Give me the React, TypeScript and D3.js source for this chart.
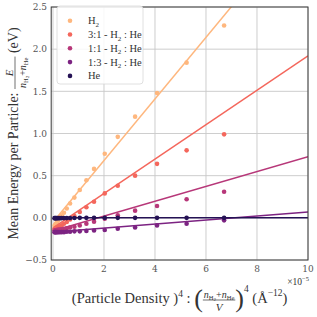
import React, { useEffect, useRef } from "react";
import * as d3 from "d3";

// x in units of 1e-5 Å^-12
const density4 = [6.71, 5.24, 4.08, 3.22, 2.54, 2.03, 1.61, 1.31, 1.05, 0.84, 0.67, 0.54, 0.43, 0.34, 0.27, 0.21, 0.165, 0.13, 0.1, 0.08, 0.06];
const energyH2 = [2.28, 1.84, 1.48, 1.2, 0.96, 0.76, 0.58, 0.445, 0.33, 0.24, 0.17, 0.11, 0.06, 0.03, 0.0, -0.03, -0.05, -0.065, -0.075, -0.085, -0.095];
const energy31 = [0.99, 0.8, 0.64, 0.5, 0.38, 0.29, 0.19, 0.126, 0.07, 0.02, -0.02, -0.05, -0.07, -0.09, -0.1, -0.11, -0.115, -0.12, -0.125, -0.13, -0.13];
const energy11 = [0.31, 0.22, 0.14, 0.085, 0.03, -0.01, -0.045, -0.07, -0.09, -0.105, -0.115, -0.125, -0.13, -0.135, -0.14, -0.14, -0.145, -0.145, -0.15, -0.15, -0.15];
const energy13 = [-0.03, -0.07, -0.09, -0.115, -0.13, -0.145, -0.15, -0.155, -0.16, -0.16, -0.165, -0.165, -0.17, -0.17, -0.17, -0.17, -0.17, -0.17, -0.17, -0.17, -0.17];
const energyHe = [0.0, 0.0, 0.0, 0.0, 0.0, 0.0, 0.0, 0.0, 0.0, -0.002, -0.002, -0.003, -0.003, -0.003, -0.004, -0.004, -0.004, -0.004, -0.004, -0.004, -0.004];

const seriesNames = ["H2", "3:1 - H2 : He", "1:1 - H2 : He", "1:3 - H2 : He", "He"];
const seriesValues = [energyH2, energy31, energy11, energy13, energyHe];
const seriesColors = [0.85, 0.68, 0.5, 0.36, 0.15].map(t => d3.interpolateMagma(t));
// linear fits: E = a + b x
const fitIntercepts = [-0.05, -0.12, -0.155, -0.17, 0.0];
const fitSlopes = [0.365, 0.204, 0.088, 0.024, 0.0];

const xTicks = [0, 2, 4, 6, 8, 10];
const yTicks = [-0.5, 0.0, 0.5, 1.0, 1.5, 2.0, 2.5];

const FONT = "'DejaVu Serif', serif";
const LFONT = "'Liberation Serif', serif";

type Seg = { t: string; dy?: number; size?: number; italic?: boolean } | { num: Seg[]; den: Seg[]; size?: number };

// lays segments out left to right, returns total width
function layout(g: any, segs: Seg[], x0: number, base: number, size: number): number {
  let x = x0;
  segs.forEach(s => {
    if ("num" in s) {
      const gn = g.append("g");
      const gd = g.append("g");
      const wn = layout(gn, s.num, 0, base - 5, s.size || 10);
      const wd = layout(gd, s.den, 0, base + 8, s.size || 10);
      const w = Math.max(wn, wd) + 2;
      gn.attr("transform", `translate(${x + (w - wn) / 2},0)`);
      gd.attr("transform", `translate(${x + (w - wd) / 2},0)`);
      g.append("line").attr("x1", x).attr("x2", x + w).attr("y1", base - 3).attr("y2", base - 3)
        .attr("stroke", "#333").attr("stroke-width", 0.7);
      x += w;
    } else {
      const t = g.append("text").attr("x", x).attr("y", base + (s.dy || 0))
        .attr("font-size", s.size || size).attr("font-family", LFONT)
        .attr("font-style", s.italic ? "italic" : "normal").attr("fill", "#333")
        .style("white-space", "pre").text(s.t);
      x += (t.node() as SVGTextElement).getComputedTextLength();
    }
  });
  return x - x0;
}

const App = () => {
  const ref = useRef<SVGSVGElement>(null);

  useEffect(() => {
    const width = 317;
    const height = 317;
    const margin = { left: 53, right: 9, top: 7, bottom: 57 };
    const svg = d3.select(ref.current).attr("width", width).attr("height", height);
    svg.selectAll("*").remove();

    const x = d3.scaleLinear().domain([-0.07, 10]).range([margin.left - 1.8, width - margin.right]);
    const y = d3.scaleLinear().domain([-0.5, 2.5]).range([height - margin.bottom, margin.top]);

    svg.append("rect").attr("width", width).attr("height", height).attr("fill", "#fff");

    // grid
    svg.append("g").selectAll("line").data(xTicks).enter().append("line")
      .attr("x1", d => x(d)).attr("x2", d => x(d)).attr("y1", y(-0.5)).attr("y2", y(2.5))
      .attr("stroke", "#c8c8c8").attr("stroke-width", 0.9);
    svg.append("g").selectAll("line").data(yTicks).enter().append("line")
      .attr("x1", x.range()[0]).attr("x2", x.range()[1]).attr("y1", d => y(d)).attr("y2", d => y(d))
      .attr("stroke", "#c8c8c8").attr("stroke-width", 0.9);

    const plot = svg.append("g");
    svg.append("clipPath").attr("id", "clip").append("rect")
      .attr("x", x.range()[0]).attr("y", y(2.5)).attr("width", x.range()[1] - x.range()[0]).attr("height", y(-0.5) - y(2.5));
    plot.attr("clip-path", "url(#clip)");

    const xMin = d3.min(density4) as number;
    seriesValues.forEach((vals, i) => {
      const color = seriesColors[i];
      plot.append("line")
        .attr("x1", x(xMin)).attr("y1", y(fitIntercepts[i] + fitSlopes[i] * xMin))
        .attr("x2", x(10)).attr("y2", y(fitIntercepts[i] + fitSlopes[i] * 10))
        .attr("stroke", color).attr("stroke-width", 1.5);
      plot.append("g").selectAll("circle").data(vals).enter().append("circle")
        .attr("cx", (d, j) => x(density4[j])).attr("cy", d => y(d)).attr("r", 2.3)
        .attr("fill", color);
    });

    // frame
    svg.append("rect").attr("x", x.range()[0]).attr("y", y(2.5))
      .attr("width", x.range()[1] - x.range()[0]).attr("height", y(-0.5) - y(2.5))
      .attr("fill", "none").attr("stroke", "#3a3a3a").attr("stroke-width", 1);

    // tick labels
    svg.append("g").selectAll("text").data(xTicks).enter().append("text")
      .attr("x", d => x(d)).attr("y", y(-0.5) + 12).attr("text-anchor", "middle")
      .attr("font-size", 9).attr("font-family", FONT).attr("fill", "#555").text(d => d3.format("d")(d));
    svg.append("g").selectAll("text").data(yTicks).enter().append("text")
      .attr("x", margin.left - 6).attr("y", d => y(d) + 3.3).attr("text-anchor", "end")
      .attr("font-size", 9).attr("font-family", FONT).attr("fill", "#555")
      .text(d => (d < 0 ? "\u2212" : "") + d3.format(".1f")(Math.abs(d)));

    // offset text
    const off = svg.append("g");
    const wOff = layout(off, [{ t: "\u00d710" }, { t: "\u22125", dy: -4, size: 6.5 }], 0, 0, 9.5);
    off.attr("transform", `translate(${x(10) - wOff + 1},${y(-0.5) + 25})`);

    // x label
    const xl = svg.append("g");
    const wx = layout(xl, [
      { t: "(Particle Density )" },
      { t: "4", dy: -6, size: 9.5 },
      { t: " : " },
      { t: "(", size: 26, dy: 4 },
      { num: [{ t: "n", italic: true }, { t: "H", dy: 2, size: 6.5 }, { t: "2", dy: 3, size: 5 }, { t: "+", size: 10 }, { t: "n", italic: true }, { t: "He", dy: 2, size: 6.5 }], den: [{ t: "V", italic: true, size: 11 }] },
      { t: ")", size: 26, dy: 4 },
      { t: "4", dy: -11, size: 9.5 },
      { t: " (Å" },
      { t: "\u221212", dy: -7, size: 9.5 },
      { t: ")" },
    ], 0, 0, 14.5);
    xl.attr("transform", `translate(${(x.range()[0] + x.range()[1]) / 2 - wx / 2},303)`);

    // y label
    const yl = svg.append("g");
    const wy = layout(yl, [
      { t: "Mean Energy per Particle: " },
      { num: [{ t: "E", italic: true, size: 11 }], den: [{ t: "n", italic: true }, { t: "H", dy: 2, size: 6.5 }, { t: "2", dy: 3, size: 5 }, { t: "+", size: 10 }, { t: "n", italic: true }, { t: "He", dy: 2, size: 6.5 }] },
      { t: " (eV)" },
    ], 0, 0, 14);
    yl.attr("transform", `translate(18,${(y(-0.5) + y(2.5)) / 2 + wy / 2}) rotate(-90)`);

    // legend
    const lg = svg.append("g");
    lg.append("rect").attr("x", 57).attr("y", 6).attr("width", 86).attr("height", 78).attr("rx", 3)
      .attr("fill", "#fff").attr("fill-opacity", 0.85).attr("stroke", "#d8d8d8").attr("stroke-width", 0.8);
    const legendLabels: Seg[][] = [
      [{ t: "H" }, { t: "2", dy: 2.5, size: 7 }],
      [{ t: "3:1 - H" }, { t: "2", dy: 2.5, size: 7 }, { t: " : He" }],
      [{ t: "1:1 - H" }, { t: "2", dy: 2.5, size: 7 }, { t: " : He" }],
      [{ t: "1:3 - H" }, { t: "2", dy: 2.5, size: 7 }, { t: " : He" }],
      [{ t: "He" }],
    ];
    seriesNames.forEach((name, i) => {
      const ry = 20.7 + i * 13.8;
      lg.append("circle").attr("cx", 70).attr("cy", ry).attr("r", 2.3).attr("fill", seriesColors[i]);
      const row = lg.append("g").attr("data-name", name);
      layout(row, legendLabels[i], 88, ry + 3.5, 10.5);
    });
    lg.raise();
  }, []);

  return <svg ref={ref} style={{ position: "absolute", left: 0, top: 0 }}></svg>;
};

export default App;
